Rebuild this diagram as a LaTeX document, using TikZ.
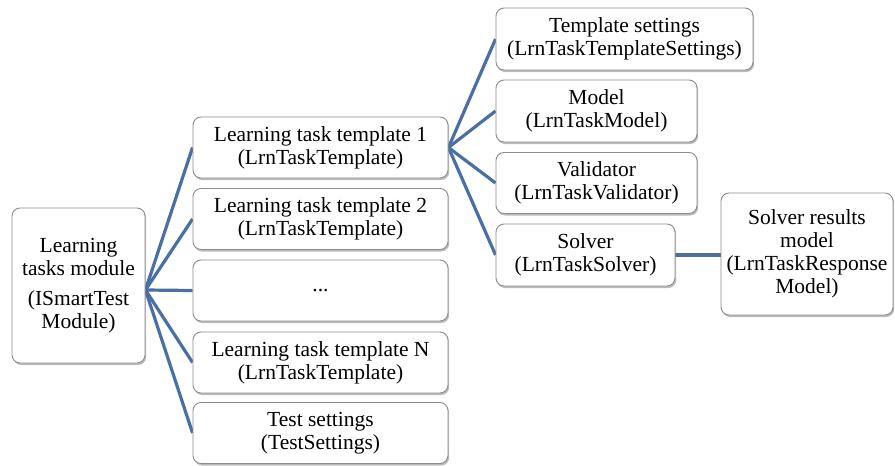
\documentclass[tikz,border=0pt]{standalone}
\usepackage{fontspec}
\setmainfont{LiberationSerif}[Extension=.ttf, UprightFont=*-Regular, Ligatures=TeX]
\usetikzlibrary{shadows,backgrounds}
\definecolor{linkblue}{HTML}{4A6FA5}
\definecolor{boxgray}{HTML}{8C8C8C}
\begin{document}
\begin{tikzpicture}[x=1pt,y=-1pt,
  box/.style={draw=boxgray, line width=0.9pt, fill=white, rounded corners=8pt,
    align=center, inner sep=0pt, font=\rmfamily\fontsize{21.5}{23}\selectfont,
    drop shadow={shadow xshift=1.2pt, shadow yshift=-2pt, opacity=0.45, fill=black!60}},
  link/.style={draw=linkblue, line width=3.2pt}]
\useasboundingbox (0,0) rectangle (895,466);
% left module
\node[box, minimum width=133pt, minimum height=155pt] (mod) at (78.5,285.5)
  {Learning\\tasks module\\[7pt](ISmartTest\\Module)};
% middle column
\node[box, minimum width=255pt, minimum height=61pt] (t1) at (320.5,147.5)
  {Learning task template 1\\(LrnTaskTemplate)};
\node[box, minimum width=255pt, minimum height=61pt] (t2) at (320.5,219)
  {Learning task template 2\\(LrnTaskTemplate)};
\node[box, minimum width=255pt, minimum height=61pt] (dots) at (320.5,290.5)
  {...};
\node[box, minimum width=255pt, minimum height=61pt] (tn) at (320.5,362.5)
  {Learning task template N\\(LrnTaskTemplate)};
\node[box, minimum width=255pt, minimum height=61pt] (ts) at (320.5,433)
  {Test settings\\(TestSettings)};
% right column
\node[box, minimum width=257pt, minimum height=62pt] (set) at (624.5,39)
  {Template settings\\(LrnTaskTemplateSettings)};
\node[box, minimum width=201pt, minimum height=62pt] (model) at (596.5,111)
  {Model\\(LrnTaskModel)};
\node[box, minimum width=201pt, minimum height=61pt] (val) at (596.5,183)
  {Validator\\(LrnTaskValidator)};
\node[box, minimum width=179pt, minimum height=62pt] (solv) at (585.5,255)
  {Solver\\(LrnTaskSolver)};
% far right
\node[box, minimum width=172pt, minimum height=122pt] (res) at (807,254)
  {Solver results\\model\\(LrnTaskResponse\\Model)};
\coordinate (hub) at (mod.east |- 0,290);
\begin{scope}[on background layer]
\foreach \n in {t1,t2,dots,tn,ts} \draw[link] (hub) -- (\n.west);
\foreach \n in {set,model,val,solv} \draw[link] (t1.east) -- (\n.west);
\draw[link] (solv.east) -- (solv.east -| res.west);
\end{scope}
\end{tikzpicture}
\end{document}
